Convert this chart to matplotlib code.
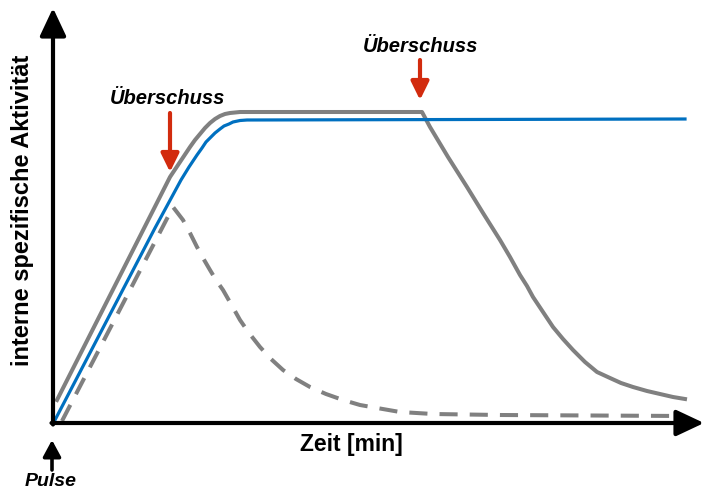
import matplotlib.pyplot as plt

plt.rcParams['font.family'] = ['Liberation Sans', 'DejaVu Sans']

# schematic curves (time, activity), arbitrary units
grey_t = [4, 117, 127, 137, 142, 147, 152, 157, 162, 167, 172, 177, 187,
          369, 377, 395, 414, 430, 447, 457, 467, 474, 480, 490, 500, 510,
          520, 532, 544, 557, 568, 580, 594, 607, 620, 632]
grey_a = [23, 246, 261, 276, 283, 289, 295, 300, 304, 307, 309, 310, 311,
          311, 296, 266, 236, 210, 183, 166, 148, 137, 126, 111, 96, 84,
          73, 61, 51, 45, 40, 36, 32, 29, 26, 24]

blue_t = [2, 102, 128, 136, 144, 149, 153, 158, 162, 167, 171, 176, 180, 187,
          194, 632]
blue_a = [3, 195, 243, 256, 268, 275, 281, 286, 290, 294, 297, 299, 301, 302.5,
          303, 304]

dash_t = [9, 120, 130, 137, 144, 150, 157, 163, 170, 178, 187, 196, 207, 218,
          230, 243, 257, 273, 290, 307, 324, 347, 380, 447, 632]
dash_a = [2, 216, 203, 190, 176, 165, 153, 143, 133, 119, 103, 90, 76, 64,
          53, 44, 36, 29, 23, 18, 15, 11, 9, 8, 7]

# "Überschuss" arrows: x, tail, tip
excess_x = [117, 367]
excess_tail = [310, 363]
excess_tip = [251, 323]
excess_text_x = [115, 368]
excess_text_y = [325, 377]

grey = '#808080'
blue = '#0070C0'
red = '#D22B0E'

fig = plt.figure(figsize=(7.07, 4.92), dpi=100)
ax = fig.add_axes([0, 0, 1, 1])
ax.set_xlim(-53, 654)
ax.set_ylim(-69, 423)
ax.axis('off')

ax.plot(dash_t, dash_a, color=grey, lw=2.9, ls=(0, (4.5, 3)), solid_capstyle='butt')
ax.plot(grey_t, grey_a, color=grey, lw=2.9, solid_joinstyle='round')
ax.plot(blue_t, blue_a, color=blue, lw=2.3, solid_joinstyle='round')

# axes with arrow heads
ax_arrow = dict(arrowstyle='-|>,head_length=0.85,head_width=0.4', lw=3, color='black',
                mutation_scale=20, shrinkA=0, shrinkB=0)
ax.annotate('', xy=(0, 415), xytext=(0, -1.5), arrowprops=ax_arrow)
ax.annotate('', xy=(651, 0), xytext=(-1.5, 0), arrowprops=ax_arrow)

for x, tail, tip, tx, ty in zip(excess_x, excess_tail, excess_tip,
                                excess_text_x, excess_text_y):
    ax.annotate('', xy=(x, tip), xytext=(x, tail),
                arrowprops=dict(arrowstyle='-|>,head_length=0.55,head_width=0.27',
                                lw=3, color=red, mutation_scale=20,
                                shrinkA=0, shrinkB=0))
    ax.text(tx, ty, 'Überschuss', fontsize=14.5, fontweight='bold',
            fontstyle='italic', ha='center', va='center')

# pulse marker
ax.annotate('', xy=(-1, -17), xytext=(-1, -47),
            arrowprops=dict(arrowstyle='-|>,head_length=0.5,head_width=0.27',
                            lw=2.6, color='black', mutation_scale=20,
                            shrinkA=0, shrinkB=0))
ax.text(-2, -58, 'Pulse', fontsize=14, fontweight='bold', fontstyle='italic',
        ha='center', va='center')

ax.text(298, -21, 'Zeit [min]', fontsize=16.5, fontweight='bold', ha='center', va='center')
ax.text(-31, 213, 'interne spezifische Aktivität', fontsize=17, fontweight='bold',
        rotation=90, ha='center', va='center')

fig.savefig('out.png', dpi=100)
